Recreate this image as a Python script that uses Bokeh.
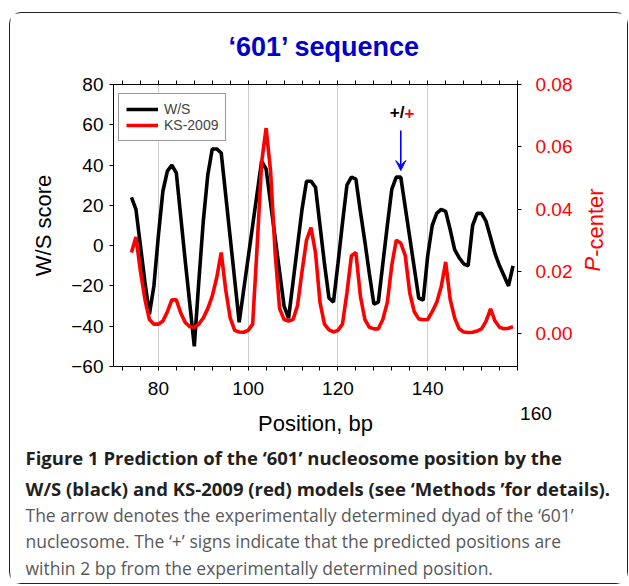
import math
from bokeh.plotting import figure
from bokeh.models import (Range1d, LinearAxis, FixedTicker, CustomJSTickFormatter,
                          NumeralTickFormatter, Label, Arrow, VeeHead, Title)
from bokeh.embed import file_html
from bokeh.resources import INLINE

# ---------------- data ----------------
position = list(range(74, 160))
ws_score = [24, 18, 0, -18, -34, -20, 5, 27, 37, 40,
            36, 14, -8, -29, -50, -18, 12, 35, 48, 48,
            46, 25, 4, -17, -38, -22, -6, 10, 26, 42,
            38, 21, 4, -13, -30, -36, -18, 0, 18, 32,
            32, 29, 10, -9, -26, -28, -9, 11, 30, 34,
            33, 17, 2, -14, -29, -28, -9, 10, 28, 34,
            34, 19, 4, -11, -26, -27, -5, 10, 16, 18,
            17, 8, -2, -6, -9, -10, 10, 16, 16, 12,
            4, -4, -10, -15, -20, -10]
ks_2009 = [0.026, 0.031, 0.020, 0.011, 0.0045, 0.003, 0.003, 0.004, 0.007, 0.0108,
           0.0108, 0.0065, 0.0035, 0.0022, 0.002, 0.003, 0.005, 0.008, 0.012, 0.018,
           0.026, 0.014, 0.005, 0.001, 0.0005, 0.0004, 0.001, 0.003, 0.028, 0.055,
           0.066, 0.052, 0.026, 0.008, 0.0045, 0.004, 0.0045, 0.009, 0.020, 0.030,
           0.034, 0.026, 0.010, 0.003, 0.0012, 0.0005, 0.001, 0.003, 0.013, 0.025,
           0.026, 0.012, 0.0045, 0.002, 0.0015, 0.0015, 0.0045, 0.010, 0.022, 0.030,
           0.029, 0.025, 0.013, 0.007, 0.0047, 0.0044, 0.0045, 0.007, 0.010, 0.015,
           0.023, 0.011, 0.005, 0.0015, 0.0005, 0.0003, 0.0004, 0.0008, 0.0015, 0.004,
           0.0079, 0.004, 0.002, 0.0015, 0.0017, 0.0022]
x_labelled = [80, 100, 120, 140]
x_last = 160
x_ticks = list(range(72, 161, 4))
left_ticks = [-60, -40, -20, 0, 20, 40, 60, 80]
right_ticks = [0.00, 0.02, 0.04, 0.06, 0.08]
dyad = 134
series_names = ["W/S", "KS-2009"]
right_label_parts = ["P", "-center"]
title_text = "\u2018601\u2019 sequence"
caption_bold = ["Figure 1 Prediction of the \u2018601\u2019 nucleosome position by the",
                "W/S (black) and KS-2009 (red) models (see \u2018Methods \u2019for details)."]
caption_regular = ["The arrow denotes the experimentally determined dyad of the \u2018601\u2019",
                   "nucleosome. The \u2018+\u2019 signs indicate that the predicted positions are",
                   "within 2 bp from the experimentally determined position."]

# ---------------- geometry (page pixels) ----------------
OX, OY = 10, 13          # canvas origin on the page
W, H = 617, 570
FL, FT, FR, FB = 113, 84, 517, 366
X0, X1 = 70, 160
Y0, Y1 = -60, 80


def sx(px):   # page x -> screen units (from frame left)
    return px - FL


def sy(py):   # page y -> screen units (from frame bottom, upward)
    return FB - py


def dy(py):   # page y -> data y
    return Y1 - (py - FT) * (Y1 - Y0) / (FB - FT)


FONT = "Liberation Sans"
CAP = "Open Sans"

p = figure(width=W, height=H, x_range=Range1d(X0, X1), y_range=Range1d(Y0, Y1),
           output_backend="svg", toolbar_location=None,
           min_border_left=FL - OX, min_border_right=OX + W - FR,
           min_border_top=FT - OY, min_border_bottom=OY + H - FB,
           styles={"position": "relative", "left": f"{OX}px", "top": f"{OY}px",
                   "outline": "1.5px solid #222222", "border-radius": "11px"})
p.extra_y_ranges = {"pc": Range1d(-0.0106, 0.08)}
p.background_fill_color = "white"
p.border_fill_color = "white"
p.outline_line_color = "black"

# title
p.title.text = title_text
p.title.align = "left"
p.title.offset = 228 - FL
p.title.vertical_align = "top"
p.title.standoff = 34
p.title.text_font = FONT
p.title.text_font_style = "bold"
p.title.text_font_size = "27px"
p.title.text_color = "#0000cc"

# grid
p.xgrid.ticker = FixedTicker(ticks=x_labelled)
p.xgrid.grid_line_color = "#cfcfcf"
p.xgrid.grid_line_width = 1
p.ygrid.visible = False

# bottom axis (the 160 label sits lower and to the right, as in the original)
shifted_last = "\n" + "\u00a0" * 7 + str(x_last)
xa = p.xaxis[0]
xa.ticker = FixedTicker(ticks=x_ticks, minor_ticks=[])
xa.formatter = CustomJSTickFormatter(
    args=dict(show=x_labelled, last=x_last, shifted=shifted_last),
    code="if (tick == last) { return shifted; } return show.includes(tick) ? String(tick) : '';")
xa.major_tick_in = 0
xa.major_tick_out = 4
xa.minor_tick_in = 0
xa.minor_tick_out = 0
xa.major_label_standoff = 7
xa.major_label_text_font = FONT
xa.major_label_text_font_size = "19px"
xa.major_label_text_color = "black"
xa.axis_label = "Position, bp"
xa.axis_label_text_font = FONT
xa.axis_label_text_font_size = "22px"
xa.axis_label_text_font_style = "normal"
xa.axis_label_text_color = "black"
xa.axis_label_standoff = -16
xa.axis_line_color = "black"

# top axis
ta = LinearAxis(ticker=FixedTicker(ticks=x_ticks, minor_ticks=[]),
                formatter=CustomJSTickFormatter(code="return '';"),
                major_tick_in=0, major_tick_out=4, minor_tick_in=0, minor_tick_out=0,
                major_label_text_font_size="1px", axis_line_color="black")
p.add_layout(ta, "above")

# left axis
ya = p.yaxis[0]
ya.ticker = FixedTicker(ticks=left_ticks, minor_ticks=[])
ya.major_tick_in = 0
ya.major_tick_out = 4
ya.minor_tick_in = 0
ya.minor_tick_out = 0
ya.major_label_standoff = 6
ya.major_label_text_font = FONT
ya.major_label_text_font_size = "19px"
ya.major_label_text_color = "black"
ya.axis_label = "W/S score"
ya.axis_label_text_font = FONT
ya.axis_label_text_font_size = "22px"
ya.axis_label_text_font_style = "normal"
ya.axis_label_text_color = "black"
ya.axis_label_standoff = 12
ya.axis_line_color = "black"

# right axis
ra = LinearAxis(y_range_name="pc", ticker=FixedTicker(ticks=right_ticks, minor_ticks=[]),
                formatter=NumeralTickFormatter(format="0.00"),
                major_tick_in=0, major_tick_out=4, minor_tick_in=0, minor_tick_out=0,
                major_label_standoff=14, major_label_text_font=FONT,
                major_label_text_font_size="19px", major_label_text_color="#ff0000",
                axis_line_color="black")
p.add_layout(ra, "right")

# right-hand title "P-center" (italic P), written as rotated labels of two bare axes
P_BOTTOM = 271
P_WIDTH = 14.7
for part, anchor_py, style, standoff in [
        (right_label_parts[0], P_BOTTOM, "italic", 17),
        (right_label_parts[1], P_BOTTOM - P_WIDTH, "normal", -25)]:
    lab_axis = LinearAxis(ticker=FixedTicker(ticks=[dy(anchor_py)], minor_ticks=[]),
                          formatter=CustomJSTickFormatter(args=dict(t=part), code="return t;"),
                          major_tick_in=0, major_tick_out=0, minor_tick_in=0, minor_tick_out=0,
                          axis_line_color=None, major_tick_line_color=None,
                          minor_tick_line_color=None,
                          major_label_orientation=math.pi / 2,
                          major_label_standoff=standoff, major_label_text_font=FONT,
                          major_label_text_font_size="22px",
                          major_label_text_font_style=style,
                          major_label_text_color="#ff0000")
    p.add_layout(lab_axis, "right")

# caption lines as titles below the x axis
cap_specs = [(caption_bold[0], "bold", "18.5px", "#231f20", 8),
             (caption_bold[1], "bold", "18.5px", "#231f20", 0),
             (caption_regular[0], "normal", "17.5px", "#58595b", 0),
             (caption_regular[1], "normal", "17.5px", "#58595b", 1),
             (caption_regular[2], "normal", "17.5px", "#58595b", 0)]
for text, style, size, color, standoff in cap_specs:
    p.add_layout(Title(text=text, align="left", offset=25 - FL, standoff=standoff,
                       text_font=CAP, text_font_style=style, text_font_size=size,
                       text_color=color), "below")

# data
p.line(position, ws_score, line_color="black", line_width=3.6, legend_label=series_names[0])
p.line(position, ks_2009, y_range_name="pc", line_color="#ff0000", line_width=3.6,
       legend_label=series_names[1])

lg = p.legend[0]
lg.location = (5, FB - FT - 9 - 48)
lg.margin = 0
lg.padding = 7
lg.spacing = 0
lg.glyph_width = 32
lg.glyph_height = 14
lg.label_height = 14
lg.label_standoff = 6
lg.label_text_font = FONT
lg.label_text_font_size = "14px"
lg.border_line_color = "#333333"
lg.border_line_width = 1
lg.background_fill_color = "white"
lg.background_fill_alpha = 1

# arrow and +/+ marks
p.add_layout(Arrow(end=VeeHead(size=10, fill_color="#0000ff", line_color="#0000ff"),
                   x_start=dyad, y_start=dy(130), x_end=dyad, y_end=dy(170),
                   line_color="#0000ff", line_width=1.6))


def screen_label(px, py, text, **kw):
    p.add_layout(Label(x=sx(px), y=sy(py), x_units="screen", y_units="screen",
                       text=text, **kw))


screen_label(404, 112, "+/", text_align="right", text_baseline="middle", text_font=FONT,
             text_font_style="bold", text_font_size="17px", text_color="black")
screen_label(404, 112, "+", text_align="left", text_baseline="middle", text_font=FONT,
             text_font_style="bold", text_font_size="17px", text_color="#ff0000")

open("out.html", "w").write(file_html(p, INLINE))
